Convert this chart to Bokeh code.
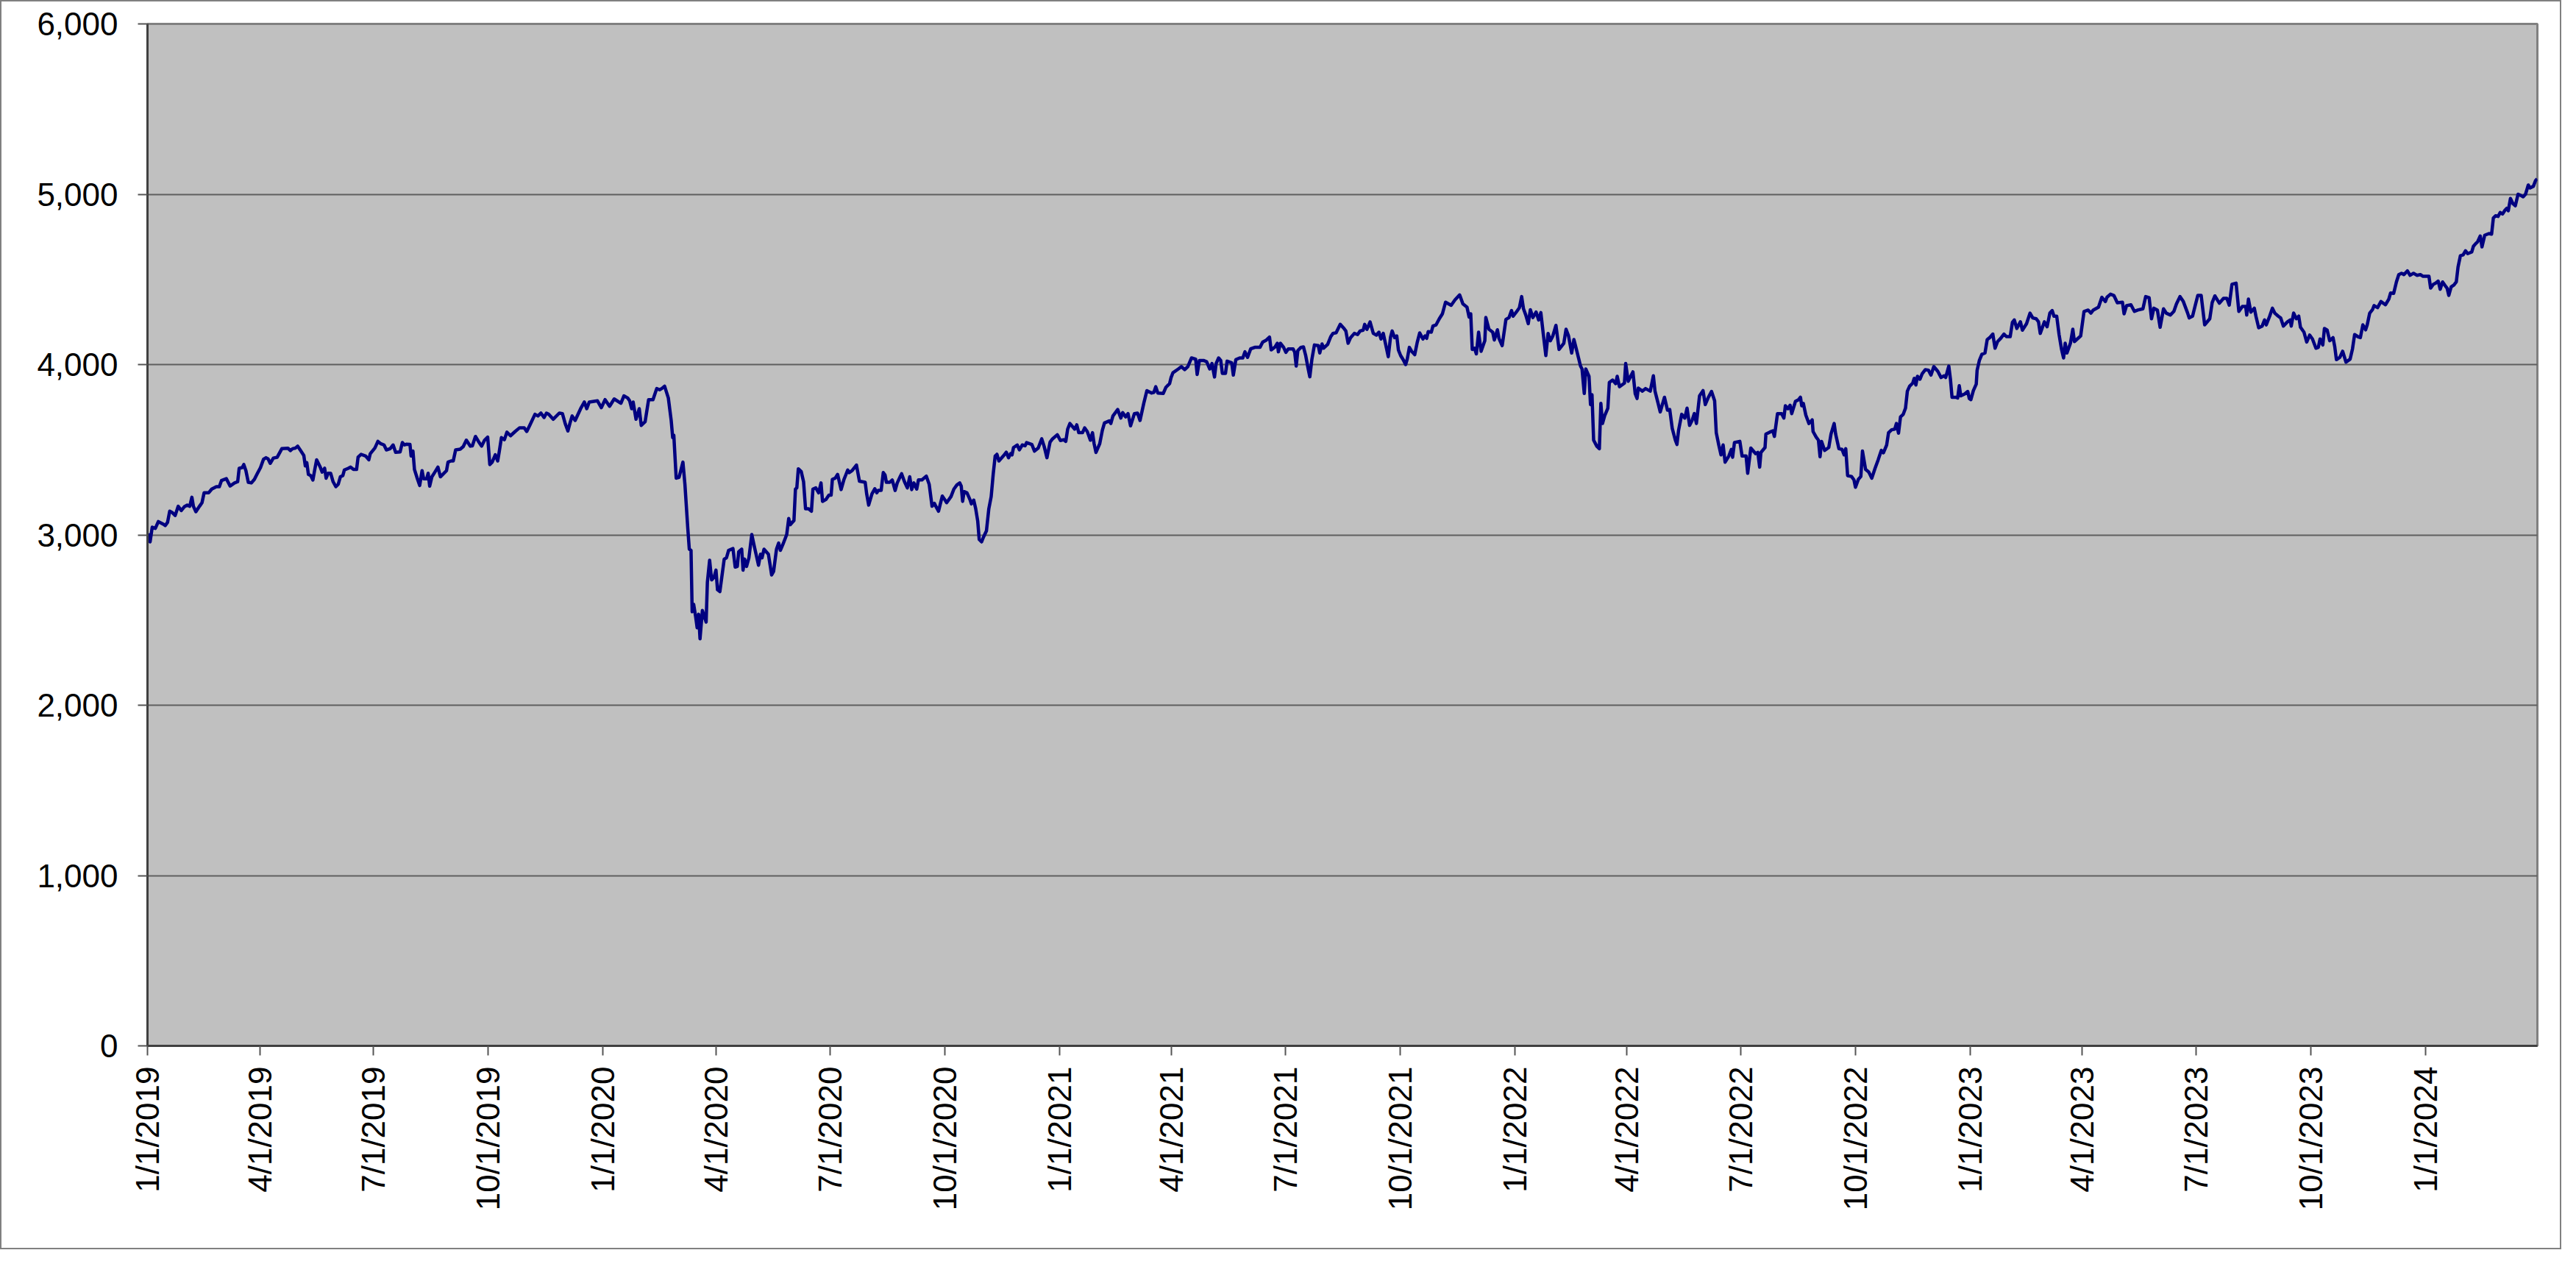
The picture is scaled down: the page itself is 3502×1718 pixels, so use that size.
import math
import datetime as dt
from bokeh.plotting import figure
from bokeh.models import FixedTicker, NumeralTickFormatter, Range1d, ColumnDataSource
from bokeh.embed import file_html
from bokeh.resources import INLINE

# Days since 1/1/2019 and index level
days = [
    0.7, 2.1, 3.8, 6.3, 8.7, 12.4, 14.3, 16.1, 17.8, 19.7, 22.2, 24.6, 27.1, 29.5, 31.9, 33.9,
    35.6, 36.8, 38.8, 41.7, 43.7, 45.4, 49.0, 51.5, 55.2, 57.6, 59.3, 63.2, 66.2, 69.8, 72.3,
    73.5, 76.0, 77.2, 78.9, 80.8, 83.3, 85.7, 87.7, 90.6, 93.0, 95.0, 96.7, 98.4, 100.9, 104.0,
    107.7, 112.6, 114.5, 116.3, 118.7, 120.4, 122.4, 125.3, 126.5, 127.7, 129.0, 130.9, 132.6,
    134.1, 135.6, 138.3, 140.0, 142.0, 143.2, 144.9, 146.8, 148.8, 151.0, 152.9, 154.6, 156.6,
    157.8, 161.0, 162.7, 165.1, 167.6, 168.8, 171.2, 174.9, 177.4, 178.6, 182.3, 184.7, 187.1,
    189.6, 191.5, 194.5, 196.9, 198.9, 202.5, 204.3, 206.0, 207.4, 210.4, 211.3, 212.8, 214.0,
    216.5, 218.2, 220.1, 221.4, 223.8, 225.0, 226.2, 228.0, 230.4, 232.8, 234.8, 237.7, 239.7,
    240.9, 243.3, 245.1, 247.0, 250.7, 253.1, 255.6, 258.8, 260.4, 262.9, 265.3, 267.8, 270.2,
    272.7, 274.4, 276.3, 278.8, 280.7, 281.9, 283.7, 286.1, 288.1, 291.0, 294.7, 298.3, 302.0,
    304.0, 306.4, 310.6, 313.0, 315.4, 317.9, 319.8, 321.6, 325.2, 330.1, 332.6, 335.0, 337.0,
    338.7, 340.4, 342.8, 347.2, 350.2, 352.1, 354.1, 360.7, 363.8, 366.8, 370.4, 374.1,
    379.5, 381.9, 384.9, 386.5, 388.1, 389.3, 391.6, 394.2, 395.8, 398.9, 401.7, 405.2, 408.2,
    410.5, 412.2, 414.5, 417.5, 419.8, 421.0, 421.9, 423.8, 426.1, 429.2, 430.8, 433.1, 434.3,
    435.7, 436.6, 437.8, 439.4, 440.6, 441.8, 442.9, 444.8, 446.4, 447.8, 448.8, 450.6, 452.2,
    454.1, 455.7, 456.9, 458.8, 462.3, 464.1, 465.8, 469.3, 471.1, 472.8, 473.9, 476.3, 477.4,
    478.6, 480.2, 482.1, 484.4, 486.7, 489.8, 491.4, 492.6, 494.2, 497.7, 499.1, 500.3, 501.9,
    504.2, 505.9, 507.3, 509.4, 512.4, 514.0, 515.2, 518.2, 519.4, 520.5, 521.7, 524.0, 525.9,
    527.5, 529.9, 532.2, 533.4, 535.7, 538.0, 539.9, 541.1, 543.9, 546.2, 548.0, 549.0, 551.3,
    553.2, 556.0, 558.3, 559.7, 561.3, 562.5, 564.8, 568.3, 570.7, 575.3, 576.5, 578.1, 580.7,
    583.0, 584.6, 585.8, 588.1, 589.8, 591.2, 592.3, 595.1, 597.0, 599.3, 601.0, 603.3, 604.5,
    606.8, 609.1, 611.0, 612.6, 614.3, 616.6, 618.0, 620.8, 624.3, 626.6, 628.9, 630.8, 632.4,
    634.1, 637.1, 638.7, 640.6, 644.1, 646.4, 648.8, 651.1, 652.3, 653.4, 654.6, 656.9, 659.3,
    660.4, 662.3, 663.9, 665.5, 666.7, 668.6, 670.2, 672.5, 674.4, 676.3, 677.9, 679.5, 680.9,
    682.5, 686.0, 688.4, 690.2, 691.9, 693.0, 694.2, 697.2, 698.9, 701.2, 703.5, 704.7, 708.9,
    711.0, 714.0, 716.8, 718.7, 721.0,
    723.5, 725.5, 729.3, 731.8, 734.4, 736.1, 737.6, 739.4, 743.2, 744.9, 746.5, 749.5, 751.2,
    753.3, 755.8, 757.5, 758.8, 760.3, 763.3, 765.4, 767.1, 770.9, 772.2, 773.9, 777.7, 780.2,
    781.7, 784.0, 786.0, 788.0, 791.1, 793.6, 795.6, 798.6, 801.1, 804.9, 806.7, 808.2, 809.9,
    814.2, 816.3, 819.3, 820.5, 822.0, 826.3, 828.8, 831.4, 833.9, 836.9, 840.2, 841.4, 843.2,
    846.5, 849.0, 851.5, 853.3, 855.3, 856.6, 858.6, 860.3, 861.6, 864.1, 865.4, 869.1, 870.4,
    872.4, 875.5, 878.0, 879.7, 881.8, 884.3, 887.6, 891.8, 893.9, 896.9, 899.4, 900.7, 903.9,
    905.7, 906.5, 908.2, 910.7, 912.5, 914.5, 918.3, 919.6, 920.8, 922.1, 924.6, 926.6, 928.4,
    930.1, 931.7, 933.4, 935.4, 938.5, 939.7, 941.5, 942.7, 946.0, 948.5, 950.3, 952.8, 956.1,
    958.6, 960.6, 962.4, 964.4, 967.4, 970.0, 972.0, 974.5, 975.7, 977.5, 980.0, 982.6, 985.1,
    987.1, 988.8, 990.6, 992.1, 994.6, 996.4, 997.7, 999.7, 1001.4, 1002.7, 1004.5, 1006.5,
    1008.5, 1009.8, 1011.5, 1013.3, 1015.8, 1017.8, 1019.8, 1022.4, 1024.1, 1025.4, 1026.6,
    1029.1, 1030.4, 1032.9, 1035.5, 1038.0, 1040.5, 1045.0, 1048.1, 1051.8, 1054.4, 1057.7,
    1059.4, 1060.7, 1061.9, 1063.7, 1065.2, 1067.0, 1069.0, 1072.0, 1072.8, 1075.3, 1078.3,
    1079.6, 1082.1, 1083.3, 1085.9, 1088.9, 1091.4, 1093.4, 1094.7, 1097.2, 1099.7, 1101.5,
    1103.0, 1104.8, 1106.8, 1108.5, 1110.5, 1113.1, 1115.1,
    1116.9, 1118.9, 1120.9, 1122.7, 1124.5, 1126.5, 1129.0, 1131.5, 1135.3, 1137.1, 1139.1,
    1141.6, 1143.4, 1145.4, 1147.1, 1148.7, 1149.9, 1151.7, 1152.9, 1155.5, 1156.7, 1157.9,
    1159.2, 1161.8, 1163.8, 1165.0, 1166.3, 1168.1, 1170.6, 1171.8, 1174.4, 1176.9, 1178.1,
    1179.9, 1183.9, 1184.9, 1186.9, 1190.7, 1192.5, 1194.0, 1195.0, 1198.3, 1200.8, 1204.6,
    1207.1, 1208.4, 1210.8, 1212.6, 1216.0, 1218.4, 1220.2, 1222.2, 1224.7, 1226.0, 1227.3,
    1229.8, 1232.3, 1234.1, 1236.1, 1238.1, 1239.9, 1241.6, 1244.1, 1246.9, 1248.7, 1251.2,
    1253.7, 1256.2, 1257.5, 1259.5, 1261.3, 1263.0, 1264.6, 1267.6, 1269.6, 1270.6, 1272.1,
    1276.4, 1278.2, 1281.4, 1282.7, 1285.2, 1289.0, 1290.8, 1292.3, 1293.3, 1296.6, 1297.3,
    1300.3, 1302.9, 1304.1, 1306.6, 1309.9, 1311.7, 1312.9, 1314.9, 1316.7, 1318.0, 1321.0,
    1323.5, 1325.0, 1326.0, 1327.3, 1329.3, 1331.8, 1334.4, 1335.1, 1337.6, 1339.4, 1340.7,
    1341.9, 1344.4, 1347.7, 1349.5, 1352.0, 1353.2, 1355.8, 1358.3, 1360.0, 1361.3, 1362.8,
    1365.9, 1367.9, 1369.1, 1371.4, 1373.4, 1374.7, 1377.2, 1379.7, 1382.2, 1384.8, 1387.3,
    1389.8, 1391.5, 1394.1, 1395.6, 1398.1, 1400.6, 1401.9, 1403.6, 1405.2, 1407.4, 1409.2,
    1410.7, 1412.5, 1415.0, 1416.2, 1417.5, 1418.8, 1420.8, 1422.5, 1425.1, 1427.6, 1429.6,
    1431.9, 1435.1, 1437.7, 1440.2, 1441.4, 1443.9, 1445.2, 1446.5, 1449.5, 1451.0, 1452.3,
    1453.5, 1456.6, 1459.1, 1460.3, 1461.6, 1463.6, 1465.9, 1466.6, 1468.4, 1470.4, 1472.9,
    1474.7, 1476.7, 1479.2, 1481.0, 1483.0, 1485.5, 1488.1, 1490.1, 1493.1, 1494.9, 1496.4,
    1498.4,
    1501.3, 1502.9, 1506.2, 1509.0, 1511.2, 1513.9, 1515.8, 1517.2, 1520.5, 1522.7, 1524.9,
    1526.8, 1528.2, 1530.4, 1532.3, 1534.2, 1535.9, 1537.2, 1538.6, 1541.4, 1543.3, 1544.6,
    1549.6, 1552.3, 1555.6, 1557.8, 1559.7, 1563.9, 1566.6, 1569.4, 1570.7, 1573.5, 1576.2,
    1579.0, 1583.1, 1584.4, 1586.4, 1589.9, 1592.7, 1595.4, 1599.5, 1601.7, 1604.5, 1606.4,
    1608.3, 1611.1, 1613.3, 1616.0, 1618.2, 1621.5, 1624.3, 1626.4, 1629.2, 1631.9, 1635.2,
    1636.6, 1639.3, 1641.5, 1643.5, 1646.2, 1649.0, 1653.1, 1655.0, 1657.2, 1660.8, 1664.1,
    1666.8, 1668.7, 1670.9, 1674.2, 1676.4, 1679.2, 1681.9, 1682.7, 1684.1, 1686.0, 1688.8,
    1690.1, 1692.3, 1695.1, 1697.0, 1698.4, 1701.1, 1703.3, 1705.2, 1708.0, 1709.9, 1712.1,
    1715.4, 1717.6, 1718.4, 1720.3, 1722.5, 1724.4, 1725.8, 1728.6, 1730.8, 1733.2, 1735.4,
    1738.2, 1740.1, 1741.5, 1743.7, 1745.0, 1747.2, 1749.2, 1751.9, 1753.3, 1754.6, 1757.4,
    1759.6, 1762.3, 1765.6, 1767.5, 1769.2, 1772.5, 1773.8, 1775.8, 1778.0, 1779.3, 1781.3,
    1783.5, 1784.8, 1787.6, 1790.3, 1793.9, 1796.6, 1798.0, 1800.5, 1802.7, 1804.6, 1806.8,
    1808.7, 1811.5, 1813.7, 1816.4, 1819.1, 1821.9, 1824.1, 1828.8, 1830.1, 1832.3, 1834.2,
    1836.2, 1837.8, 1839.7, 1841.7, 1843.3, 1844.7, 1846.6, 1848.8, 1850.7, 1852.1, 1854.0,
    1856.2, 1858.1, 1859.8, 1863.1, 1864.4, 1866.4, 1867.7, 1869.9, 1871.3, 1873.5, 1876.8,
    1879.0, 1880.4, 1882.3, 1884.2, 1885.9, 1887.8, 1889.7, 1891.1, 1892.4, 1894.1, 1896.0,
    1898.0, 1900.2, 1902.1, 1904.3, 1906.2, 1908.4, 1909.8, 1912.5, 1914.2, 1915.5,
]

level = [
    3009, 2959, 3045, 3038, 3078, 3064, 3055, 3074, 3139, 3132, 3114, 3168, 3143, 3165, 3175, 3168,
    3221, 3168, 3136, 3168, 3189, 3247, 3247, 3269, 3283, 3283, 3319, 3330, 3287, 3305, 3312,
    3391, 3395, 3413, 3377, 3309, 3305, 3326, 3355, 3395, 3444, 3453, 3446, 3420, 3451, 3456,
    3506, 3509, 3495, 3506, 3510, 3521, 3499, 3467, 3405, 3424, 3355, 3348, 3322,
    3384, 3441, 3401, 3369, 3391, 3333, 3362, 3362, 3312, 3283, 3297, 3341, 3348,
    3381, 3391, 3398, 3384, 3384, 3456, 3473, 3463, 3441, 3477, 3510, 3549, 3535,
    3528, 3499, 3506, 3528, 3485, 3487, 3542, 3528, 3532, 3531, 3463, 3492, 3384,
    3326, 3290, 3377, 3329, 3329, 3362, 3286, 3341, 3369, 3398, 3341, 3362, 3377,
    3427, 3434, 3434, 3499, 3503, 3518, 3556, 3521, 3523, 3578, 3549, 3521, 3556,
    3574, 3413, 3427, 3470, 3434, 3485, 3571, 3559, 3603, 3582, 3607, 3629, 3629,
    3607, 3643, 3708, 3698, 3715, 3689, 3715, 3708, 3679, 3715, 3712, 3650, 3610,
    3657, 3698, 3672, 3741, 3780, 3741, 3780, 3787, 3747, 3794, 3755, 3798,
    3773, 3816, 3804, 3787, 3741, 3780, 3679, 3741, 3643, 3665, 3794, 3794, 3859,
    3852, 3859, 3873, 3804, 3672, 3571, 3585, 3333, 3338, 3427, 3297, 3038, 2916,
    2909, 2549, 2592, 2520, 2455, 2534, 2390, 2556, 2520, 2488, 2721, 2851, 2736,
    2750, 2793, 2678, 2667, 2858, 2865, 2909, 2920, 2811, 2815, 2901, 2916, 2793,
    2858, 2815, 2865, 3002, 2923, 2822, 2887, 2865, 2916, 2887, 2822, 2765, 2786,
    2916, 2952, 2909, 2945, 3002, 3096, 3060, 3084, 3269, 3276, 3388, 3372, 3312,
    3153, 3153, 3139, 3269, 3276, 3247, 3305, 3197, 3208, 3233, 3233, 3326, 3333,
    3355, 3266, 3326, 3351, 3381, 3366, 3377, 3410, 3315, 3309, 3240, 3175, 3240,
    3271, 3247, 3261, 3261, 3366, 3352, 3309, 3309, 3322, 3261, 3305, 3341, 3359,
    3312, 3276, 3341, 3266, 3305, 3269, 3323, 3323, 3345, 3297, 3168, 3185, 3161,
    3139, 3228, 3211, 3189, 3225, 3269, 3293, 3305, 3286, 3197, 3254, 3247, 3207,
    3182, 3204, 3153, 3081, 2973, 2959, 2988, 3024, 3153, 3225, 3355, 3463, 3473,
    3434, 3463, 3485, 3453, 3477, 3470, 3513, 3528, 3499, 3528, 3523, 3542, 3531,
    3492, 3510, 3564, 3521, 3453,
    3545, 3564, 3588, 3554, 3559, 3549, 3621, 3654, 3621, 3646, 3600, 3600, 3628,
    3607, 3556, 3600, 3535, 3484, 3535, 3614, 3657, 3669, 3654, 3698, 3736, 3686,
    3718, 3693, 3712, 3640, 3712, 3715, 3672, 3772, 3847, 3833, 3837, 3870, 3833,
    3830, 3866, 3888, 3924, 3952, 3974, 3988, 3970, 3988, 4039, 4032, 3942, 4024,
    4024, 4017, 3974, 4006, 3927, 4006, 4039, 4024, 3948, 3948, 4020, 4010, 3938,
    4029, 4039, 4039, 4075, 4042, 4092, 4101, 4101, 4132, 4144, 4161, 4086, 4104,
    4125, 4075, 4125, 4101, 4072, 4092, 4092, 4072, 3991, 4082, 4101, 4104, 4053,
    3986, 3928, 4032, 4115, 4111, 4068, 4121, 4096, 4118, 4164, 4183, 4187, 4236,
    4216, 4197, 4125, 4158, 4183, 4176, 4197, 4202, 4236, 4207, 4250, 4183, 4173,
    4190, 4150, 4183, 4132, 4046, 4161, 4197, 4158, 4168, 4086, 4053, 4029,
    4000, 4032, 4101, 4078, 4058, 4130, 4186, 4150, 4168, 4154, 4193,
    4190, 4226, 4233, 4269, 4298, 4366, 4348, 4380, 4409, 4356, 4337,
    4279, 4298, 4089, 4096, 4063, 4190, 4078, 4140, 4276, 4207, 4190,
    4144, 4204, 4154, 4111, 4265, 4276, 4317, 4284, 4308, 4334, 4399,
    4327, 4291, 4240, 4322, 4276, 4308, 4262,
    4305, 4176, 4053, 4183, 4140, 4168, 4230, 4089, 4125, 4207, 4168,
    4068, 4147, 4089, 4039, 3991, 3974, 3830, 3974, 3931, 3765, 3823,
    3556, 3520, 3506, 3772, 3654, 3700, 3744, 3895, 3909, 3888, 3931,
    3870, 3891, 4006, 3902, 3957, 3830, 3801, 3862, 3844, 3859, 3844,
    3934, 3844, 3775, 3722, 3808, 3732, 3736, 3626, 3556, 3531, 3614,
    3708, 3686, 3744, 3643, 3672, 3712, 3654, 3816, 3847, 3765, 3808,
    3842, 3787, 3600, 3528, 3470, 3528, 3427, 3463, 3502, 3456, 3542,
    3549, 3463, 3463, 3362, 3510, 3477, 3484, 3398, 3484, 3513, 3592,
    3603, 3611, 3578, 3712, 3712, 3686, 3758, 3741, 3761, 3712, 3784,
    3794, 3808, 3758, 3772, 3703, 3654, 3675, 3607, 3574, 3556, 3459,
    3549, 3496, 3513, 3592, 3654, 3592, 3506, 3502, 3470, 3506, 3348,
    3343, 3323, 3280, 3326, 3343, 3492, 3384, 3369, 3333, 3391, 3441,
    3496, 3482, 3528, 3600, 3617, 3621, 3654, 3597, 3693, 3708, 3744,
    3844, 3873, 3891, 3919, 3880, 3931, 3914, 3945, 3970, 3967, 3938,
    3988, 3960, 3924, 3934, 3924, 3991, 3916, 3808, 3808, 3804, 3876,
    3816, 3827, 3842, 3801, 3794, 3847, 3885, 3967, 4024, 4060, 4068,
    4147, 4158, 4179, 4096, 4135, 4154, 4179, 4164, 4164, 4248, 4262,
    4212,
    4251, 4202, 4240, 4302, 4274, 4269, 4251, 4183, 4251, 4222, 4302,
    4317, 4284, 4284, 4176, 4092, 4039, 4125, 4068, 4125, 4207, 4135,
    4168, 4312, 4320, 4302, 4320, 4337, 4395, 4370, 4395, 4413, 4406,
    4363, 4366, 4298, 4346, 4351, 4312, 4320, 4327, 4399, 4392, 4269,
    4331, 4320, 4219, 4327, 4302, 4291, 4312, 4356, 4399, 4370, 4305,
    4274, 4284, 4349, 4406, 4406, 4233, 4269, 4363, 4403, 4360, 4389,
    4389, 4349, 4471, 4478, 4312, 4341, 4341, 4291, 4384, 4308, 4331,
    4284, 4216, 4226, 4262, 4233, 4284, 4331, 4302, 4284, 4274, 4226,
    4251, 4262, 4226, 4302, 4269, 4284, 4219, 4190, 4132, 4173, 4150,
    4096, 4101, 4150, 4115, 4212, 4202, 4140, 4158, 4104, 4029, 4043,
    4078, 4014, 4032, 4092, 4176, 4161, 4158, 4233, 4204, 4233, 4302,
    4322, 4346, 4334, 4370, 4351, 4384, 4420, 4418, 4485, 4528, 4536,
    4528, 4550, 4524, 4536, 4524, 4528, 4518, 4518, 4449, 4471, 4478,
    4490, 4442, 4485, 4464, 4449, 4406, 4456, 4467, 4485, 4572, 4639,
    4644, 4668, 4651, 4661, 4694, 4711, 4720, 4755, 4691, 4759, 4769,
    4766, 4860, 4874, 4870, 4893, 4884, 4906, 4917, 4903, 4975, 4946,
    4932, 5000, 4994, 4985, 5000, 5054, 5037, 5047, 5080, 5090,
]

y_ticks = [0, 1000, 2000, 3000, 4000, 5000, 6000]
quarters = [(2019, 1), (2019, 4), (2019, 7), (2019, 10),
            (2020, 1), (2020, 4), (2020, 7), (2020, 10),
            (2021, 1), (2021, 4), (2021, 7), (2021, 10),
            (2022, 1), (2022, 4), (2022, 7), (2022, 10),
            (2023, 1), (2023, 4), (2023, 7), (2023, 10),
            (2024, 1)]
x_end_day = 1915.7

base = dt.date(2019, 1, 1)
tick_days = [(dt.date(y, m, 1) - base).days for (y, m) in quarters]
tick_labels = [f"{m}/1/{y}" for (y, m) in quarters]

src = ColumnDataSource(data=dict(day=days, level=level))

p = figure(width=3482, height=1698, output_backend="svg", toolbar_location=None,
           x_range=Range1d(0, x_end_day), y_range=Range1d(0, 6000),
           min_border_left=198, min_border_top=30, min_border_right=35, min_border_bottom=279)
p.styles = {"border": "2px solid #808080"}

p.background_fill_color = "#C0C0C0"
p.border_fill_color = "white"
p.outline_line_color = "#808080"
p.outline_line_width = 3

p.xgrid.visible = False
p.ygrid.grid_line_color = "#5f5f5f"
p.ygrid.grid_line_width = 2

font = "Liberation Sans"
for ax in (p.xaxis[0], p.yaxis[0]):
    ax.axis_line_color = "#404040"
    ax.axis_line_width = 3
    ax.major_tick_line_color = "#555555"
    ax.major_tick_line_width = 2
    ax.major_tick_out = 13
    ax.major_tick_in = 0
    ax.minor_tick_out = 0
    ax.minor_tick_in = 0
    ax.major_label_text_font = font
    ax.major_label_text_font_size = "44px"
    ax.major_label_text_color = "black"

p.yaxis.ticker = FixedTicker(ticks=y_ticks, minor_ticks=[])
p.yaxis.formatter = NumeralTickFormatter(format="0,0")
p.yaxis.major_label_standoff = 27

p.xaxis.ticker = FixedTicker(ticks=tick_days, minor_ticks=[])
p.xaxis.major_label_overrides = dict(zip(tick_days, tick_labels))
p.xaxis.major_label_orientation = math.pi / 2
p.xaxis.major_label_standoff = 15

p.line("day", "level", source=src, line_color="#000080", line_width=4.5, line_join="round")

open("out.html", "w").write(file_html(p, INLINE))
